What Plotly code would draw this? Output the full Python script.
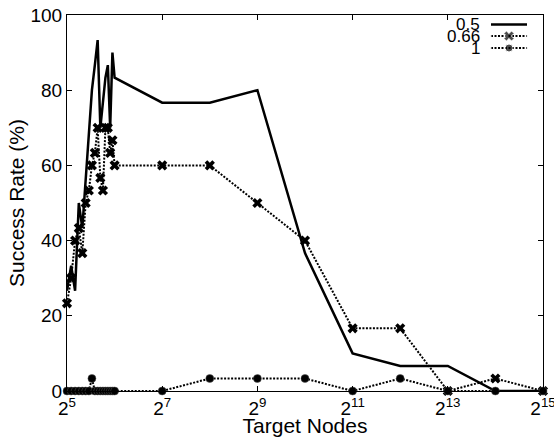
import math
import plotly.graph_objects as go

# ---------------- data ----------------
nodes = [32, 34, 36, 38, 40, 42, 44, 46, 48, 50, 52, 54, 56, 58, 60, 62, 64,
         128, 256, 512, 1024, 2048, 4096, 8192, 16384, 32768]
rate_05 = [26.67, 33.33, 26.67, 50.0, 43.33, 56.67, 66.67, 80.0, 86.67, 93.33,
           70.0, 76.67, 83.33, 86.67, 70.0, 90.0, 83.33,
           76.67, 76.67, 80.0, 36.67, 10.0, 6.67, 6.67, 0.0, 0.0]
rate_066 = [23.33, 30.0, 40.0, 43.33, 36.67, 50.0, 53.33, 60.0, 63.33, 70.0,
            56.67, 53.33, 70.0, 70.0, 63.33, 66.67, 60.0,
            60.0, 60.0, 50.0, 40.0, 16.67, 16.67, 0.0, 3.33, 0.0]
rate_1 = [0, 0, 0, 0, 0, 0, 0, 3.33, 0, 0, 0, 0, 0, 0, 0, 0, 0,
          0, 3.33, 3.33, 3.33, 0, 3.33, 0, 0, 0]
series_names = ["0.5", "0.66", "1"]
xtick_exps = [5, 7, 9, 11, 13, 15]
ytick_vals = [0, 20, 40, 60, 80, 100]

FONT = "Liberation Sans, Arial, Helvetica, sans-serif"
W, H = 554, 437
ML, MR, MT, MB = 67, 11, 15, 46

fig = go.Figure()

fig.add_trace(go.Scatter(
    x=nodes, y=rate_05, name=series_names[0], mode="lines",
    line=dict(color="black", width=2.5), cliponaxis=False, showlegend=False))
fig.add_trace(go.Scatter(
    x=nodes, y=rate_066, name=series_names[1], mode="lines+markers",
    line=dict(color="black", width=2, dash="2px,1.5px"),
    marker=dict(symbol="x", size=9, color="black"),
    cliponaxis=False, showlegend=False))
fig.add_trace(go.Scatter(
    x=nodes, y=rate_1, name=series_names[2], mode="lines+markers",
    line=dict(color="black", width=2, dash="2px,1.5px"),
    marker=dict(symbol="circle", size=8, color="black",
                line=dict(color="#555", width=0.5)),
    cliponaxis=False, showlegend=False))

# ---------------- legend (gnuplot style: label then sample) ----------------
leg_rows = [24.5, 36.0, 48.0]          # pixel rows
leg_x0, leg_x1, leg_tx = 491, 527, 482
styles = [
    dict(mode="lines", line=dict(color="black", width=2.5)),
    dict(mode="lines+markers", line=dict(color="black", width=2, dash="2px,1.5px"),
         marker=dict(symbol="x", size=[1, 9, 1], color="black")),
    dict(mode="lines+markers", line=dict(color="black", width=2, dash="2px,1.5px"),
         marker=dict(symbol="circle", size=[1, 8, 1], color="black")),
]
for name, row, st in zip(series_names, leg_rows, styles):
    xs = [leg_x0, (leg_x0 + leg_x1) / 2, leg_x1]
    ys = [row, row, row]
    fig.add_trace(go.Scatter(x=xs, y=ys, xaxis="x2", yaxis="y2", showlegend=False,
                             hoverinfo="skip", cliponaxis=False, **st))
    fig.add_annotation(x=leg_tx, y=row, xref="x2", yref="y2", text=name,
                       showarrow=False, xanchor="right", yanchor="middle",
                       font=dict(family=FONT, size=17, color="black"))

axis_common = dict(showline=True, linecolor="black", linewidth=1, mirror="ticks",
                   ticks="inside", ticklen=5, tickwidth=1, tickcolor="black",
                   showgrid=False, zeroline=False, automargin=False,
                   ticklabeloverflow="allow",
                   tickfont=dict(family=FONT, size=19, color="black"))

fig.update_layout(
    width=W, height=H,
    margin=dict(l=ML, r=MR, t=MT, b=MB),
    paper_bgcolor="white", plot_bgcolor="white",
    showlegend=False,
    xaxis=dict(type="log",
               range=[math.log10(2 ** 5) - 1e-6, math.log10(2 ** 15) + 1e-6],
               tickvals=[2 ** e for e in xtick_exps],
               ticktext=[f"2<sup>{e}</sup>" for e in xtick_exps],
               title=dict(text="Target Nodes", standoff=2,
                          font=dict(family=FONT, size=21, color="black")),
               **axis_common),
    yaxis=dict(range=[0, 100], tickvals=ytick_vals,
               title=dict(text="Success Rate (%)", standoff=0,
                          font=dict(family=FONT, size=21, color="black")),
               **axis_common),
    xaxis2=dict(overlaying="x", range=[ML, W - MR], visible=False, anchor="y2",
                automargin=False),
    yaxis2=dict(overlaying="y", range=[H - MB, MT], visible=False, anchor="x2",
                automargin=False),
)

fig.write_html("out.html", config={"displayModeBar": False},
               post_script="document.body.style.margin='0';document.body.style.padding='0';")
